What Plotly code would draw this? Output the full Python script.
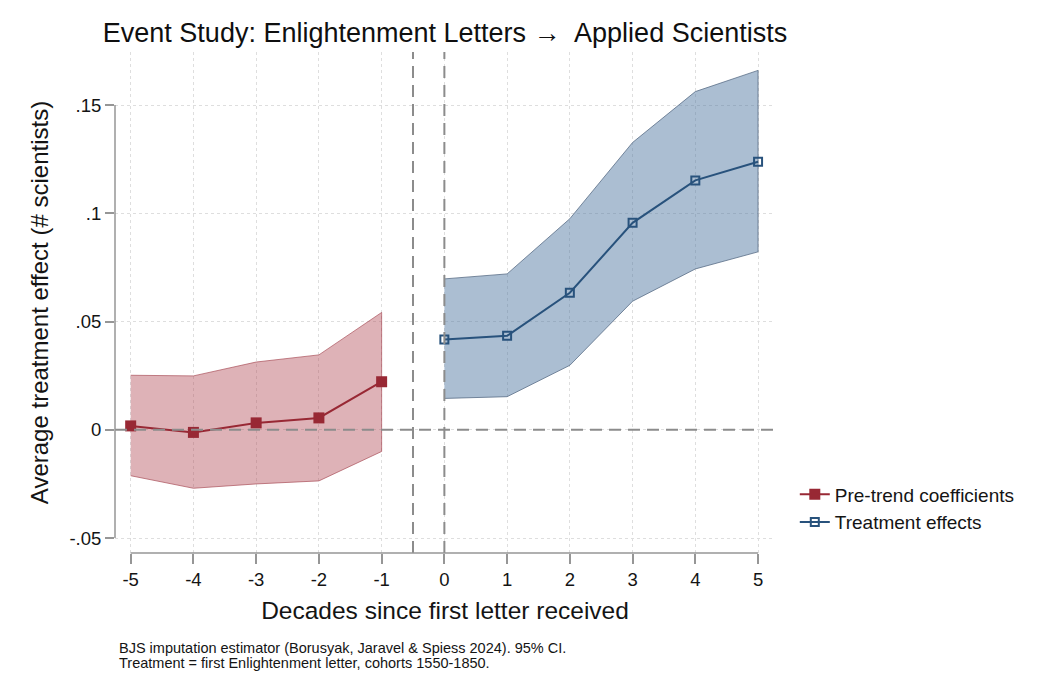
import plotly.graph_objects as go

# Event-time (decades relative to first letter)
pre_x = [-5, -4, -3, -2, -1]
pre_coef = [0.0018, -0.0012, 0.0032, 0.0055, 0.0222]
pre_lo = [-0.0212, -0.0270, -0.0250, -0.0236, -0.0100]
pre_hi = [0.0252, 0.0249, 0.0313, 0.0346, 0.0542]

post_x = [0, 1, 2, 3, 4, 5]
post_coef = [0.0417, 0.0434, 0.0633, 0.0956, 0.1152, 0.1238]
post_lo = [0.0145, 0.0153, 0.0298, 0.0594, 0.0743, 0.0822]
post_hi = [0.0697, 0.0720, 0.0975, 0.1327, 0.1562, 0.1660]

x_ticks = [-5, -4, -3, -2, -1, 0, 1, 2, 3, 4, 5]
y_ticks = [-0.05, 0, 0.05, 0.1, 0.15]
y_tick_text = ["-.05", "0", ".05", ".1", ".15"]

notes = [
    "BJS imputation estimator (Borusyak, Jaravel & Spiess 2024). 95% CI.",
    "Treatment = first Enlightenment letter, cohorts 1550-1850.",
]

RED = "rgb(152,40,52)"
RED_FILL = "rgba(176,72,84,0.42)"
RED_EDGE = "rgba(170,80,90,0.7)"
BLUE = "rgb(40,82,124)"
BLUE_FILL = "rgba(80,120,160,0.48)"
BLUE_EDGE = "rgba(90,110,135,0.8)"
FONT = "Liberation Sans, Arial, Helvetica, sans-serif"

fig = go.Figure()

# confidence bands
fig.add_trace(go.Scatter(
    x=pre_x + pre_x[::-1], y=pre_hi + pre_lo[::-1],
    fill="toself", fillcolor=RED_FILL,
    line=dict(color=RED_EDGE, width=1), mode="lines",
    showlegend=False, hoverinfo="skip"))
fig.add_trace(go.Scatter(
    x=post_x + post_x[::-1], y=post_hi + post_lo[::-1],
    fill="toself", fillcolor=BLUE_FILL,
    line=dict(color=BLUE_EDGE, width=1), mode="lines",
    showlegend=False, hoverinfo="skip"))

# reference lines
for xv in (-0.5, 0):
    fig.add_shape(type="line", xref="x", yref="paper", x0=xv, x1=xv, y0=0, y1=1,
                  line=dict(color="rgb(140,140,140)", width=2, dash="12px,7px"))
fig.add_shape(type="line", xref="paper", yref="y", x0=0, x1=1, y0=0, y1=0,
              line=dict(color="rgb(140,140,140)", width=2, dash="12px,7px"))

# point estimates
fig.add_trace(go.Scatter(
    x=pre_x, y=pre_coef, mode="lines+markers", name="Pre-trend coefficients",
    line=dict(color=RED, width=2),
    marker=dict(symbol="square", size=11, color=RED)))
fig.add_trace(go.Scatter(
    x=post_x, y=post_coef, mode="lines+markers", name="Treatment effects",
    line=dict(color=BLUE, width=2),
    marker=dict(symbol="square-open", size=8, color=BLUE, line=dict(width=2))))

# axis lines spanning only the tick range
fig.add_shape(type="line", xref="x", yref="paper", x0=x_ticks[0], x1=x_ticks[-1], y0=0, y1=0,
              line=dict(color="rgb(150,150,150)", width=1.5), layer="above")
fig.add_shape(type="line", xref="paper", yref="y", x0=0, x1=0, y0=y_ticks[0], y1=y_ticks[-1],
              line=dict(color="rgb(150,150,150)", width=1.5), layer="above")

fig.update_layout(
    width=1051, height=676,
    margin=dict(l=115, r=276, t=52, b=123),
    paper_bgcolor="white", plot_bgcolor="white",
    font=dict(family=FONT, color="rgb(20,20,20)"),
    title=dict(text="Event Study: Enlightenment Letters \u2192  Applied Scientists",
               x=(115 + 775) / 2 / 1051, xanchor="center", y=1 - 33 / 676, yanchor="middle",
               font=dict(size=27, family=FONT, color="rgb(15,15,15)")),
    xaxis=dict(range=[-5.25, 5.27], tickvals=x_ticks, ticktext=[str(v) for v in x_ticks],
               showline=False, zeroline=False, showgrid=True,
               gridcolor="rgb(222,222,222)", griddash="dot", gridwidth=1,
               ticks="outside", ticklen=10, tickcolor="rgb(150,150,150)", tickwidth=1.5,
               tickfont=dict(size=18.5),
               title=dict(text="Decades since first letter received", font=dict(size=24.5), standoff=12)),
    yaxis=dict(range=[-0.0569, 0.1745], tickvals=y_ticks, ticktext=y_tick_text,
               showline=False, zeroline=False, showgrid=True,
               gridcolor="rgb(222,222,222)", griddash="dot", gridwidth=1,
               ticks="outside", ticklen=9, tickcolor="rgb(150,150,150)", tickwidth=1.5,
               tickfont=dict(size=18.5),
               title=dict(text="Average treatment effect (# scientists)", font=dict(size=24), standoff=14)),
    legend=dict(x=1.03, xanchor="left", y=0.155, yanchor="top",
                font=dict(size=19), bgcolor="rgba(0,0,0,0)"),
    showlegend=True,
)

for i, line in enumerate(notes):
    fig.add_annotation(
        text=line, xref="paper", yref="paper",
        x=(117 - 115) / 660, y=-(648 + 14.5 * i - 553) / 501,
        xanchor="left", yanchor="middle", align="left", showarrow=False,
        font=dict(size=14.5, family=FONT, color="rgb(20,20,20)"))

fig.write_html("out.html")
